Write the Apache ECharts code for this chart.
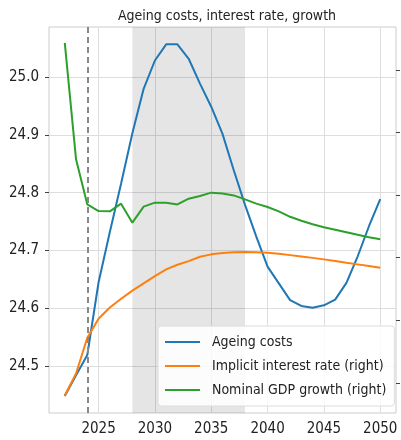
<!DOCTYPE html>
<html>
<head>
<meta charset="utf-8">
<title>Ageing costs</title>
<script src="https://cdn.jsdelivr.net/npm/echarts@6/dist/echarts.min.js"></script>
<style>
  html, body { margin: 0; padding: 0; background: #fff; }
  #main { width: 401px; height: 440px; }
</style>
</head>
<body>
<div id="main"></div>
<script>
// years on the x axis
var years = [2022, 2023, 2024, 2025, 2026, 2027, 2028, 2029, 2030, 2031, 2032, 2033, 2034, 2035,
             2036, 2037, 2038, 2039, 2040, 2041, 2042, 2043, 2044, 2045, 2046, 2047, 2048, 2049, 2050];
// left axis
var ageingCosts = [24.448, 24.484, 24.519, 24.645, 24.732, 24.816, 24.903, 24.980, 25.029, 25.057,
                   25.057, 25.032, 24.989, 24.949, 24.902, 24.839, 24.779, 24.724, 24.672, 24.643,
                   24.614, 24.604, 24.601, 24.605, 24.615, 24.644, 24.690, 24.742, 24.789];
// right axis
var interestRate = [1.900, 2.076, 2.361, 2.513, 2.603, 2.673, 2.737, 2.795, 2.853, 2.907,
                    2.944, 2.973, 3.008, 3.027, 3.037, 3.043, 3.045, 3.043, 3.040, 3.032,
                    3.021, 3.010, 2.999, 2.987, 2.974, 2.960, 2.947, 2.934, 2.920];
var gdpGrowth = [4.716, 3.786, 3.426, 3.373, 3.371, 3.432, 3.280, 3.408, 3.440, 3.440,
                 3.426, 3.472, 3.493, 3.520, 3.514, 3.498, 3.466, 3.432, 3.405, 3.370,
                 3.327, 3.295, 3.267, 3.243, 3.223, 3.203, 3.183, 3.164, 3.147];
var xTicks = [2025, 2030, 2035, 2040, 2045, 2050];
var leftTicks = [24.5, 24.6, 24.7, 24.8, 24.9, 25.0];
var rightTicks = [2.0, 2.5, 3.0, 3.5, 4.0, 4.5];
var shadedPeriod = [2028, 2038];
var lastActualYear = 2024;

var FONT = "'DejaVu Sans Condensed', 'Liberation Sans Narrow', Roboto, sans-serif";

function pairs(vals) {
  return years.map(function (y, i) { return [y, vals[i]]; });
}

var chart = echarts.init(document.getElementById('main'));
var option = {
  animation: false,
  title: {
    text: 'Ageing costs, interest rate, growth',
    left: 222, textAlign: 'center', top: 4,
    textStyle: { fontFamily: FONT, fontSize: 14, fontWeight: 'normal', color: '#222' }
  },
  grid: { left: 49, right: 5, top: 27, bottom: 27, show: true, borderColor: '#ccc', borderWidth: 1 },
  legend: {
    orient: 'vertical', left: 158, top: 326,
    itemWidth: 35, itemHeight: 2, itemGap: 10,
    padding: [9, 8, 9, 7],
    backgroundColor: 'rgba(255,255,255,0.85)', borderColor: '#ddd', borderWidth: 1, borderRadius: 3,
    icon: 'rect',
    textStyle: { fontFamily: FONT, fontSize: 14, color: '#222', padding: [0, 0, 0, 7] },
    data: ['Ageing costs', 'Implicit interest rate (right)', 'Nominal GDP growth (right)']
  },
  xAxis: {
    type: 'value', min: 2020.6, max: 2051.4,
    axisLine: { show: false },
    axisTick: { show: false, customValues: xTicks },
    axisLabel: { customValues: xTicks, fontFamily: FONT, fontSize: 15, color: '#222', margin: 9,
                 formatter: function (v) { return String(v); } },
    splitLine: { show: true, lineStyle: { color: '#ddd', width: 1 } }
  },
  yAxis: [{
    type: 'value', min: 24.4186, max: 25.087, position: 'left',
    axisLine: { show: false },
    axisTick: { show: true, customValues: leftTicks, length: 4, lineStyle: { color: '#444' } },
    axisLabel: { customValues: leftTicks, fontFamily: FONT, fontSize: 15, color: '#222', margin: 10,
                 formatter: function (v) { return v.toFixed(1); } },
    splitLine: { show: true, lineStyle: { color: '#ddd', width: 1 } }
  }, {
    type: 'value', min: 1.760, max: 4.843, position: 'right',
    axisLine: { show: false },
    axisTick: { show: true, customValues: rightTicks, length: 4, lineStyle: { color: '#444' } },
    axisLabel: { show: false, customValues: rightTicks },
    splitLine: { show: false }
  }],
  series: [{
    name: 'Ageing costs', type: 'line', yAxisIndex: 0,
    data: pairs(ageingCosts), showSymbol: false, symbol: 'none',
    color: '#1f77b4', lineStyle: { width: 2 }, z: 3,
    markArea: {
      silent: true,
      itemStyle: { color: 'rgba(0,0,0,0.1)' },
      data: [[{ xAxis: shadedPeriod[0] }, { xAxis: shadedPeriod[1] }]]
    },
    markLine: {
      silent: true, symbol: 'none', label: { show: false },
      lineStyle: { color: '#888', type: [6, 4], width: 2 },
      data: [{ xAxis: lastActualYear }]
    }
  }, {
    name: 'Implicit interest rate (right)', type: 'line', yAxisIndex: 1,
    data: pairs(interestRate), showSymbol: false, symbol: 'none',
    color: '#ff7f0e', lineStyle: { width: 2 }, z: 3
  }, {
    name: 'Nominal GDP growth (right)', type: 'line', yAxisIndex: 1,
    data: pairs(gdpGrowth), showSymbol: false, symbol: 'none',
    color: '#2ca02c', lineStyle: { width: 2 }, z: 3
  }]
};
chart.setOption(option);
</script>
</body>
</html>
